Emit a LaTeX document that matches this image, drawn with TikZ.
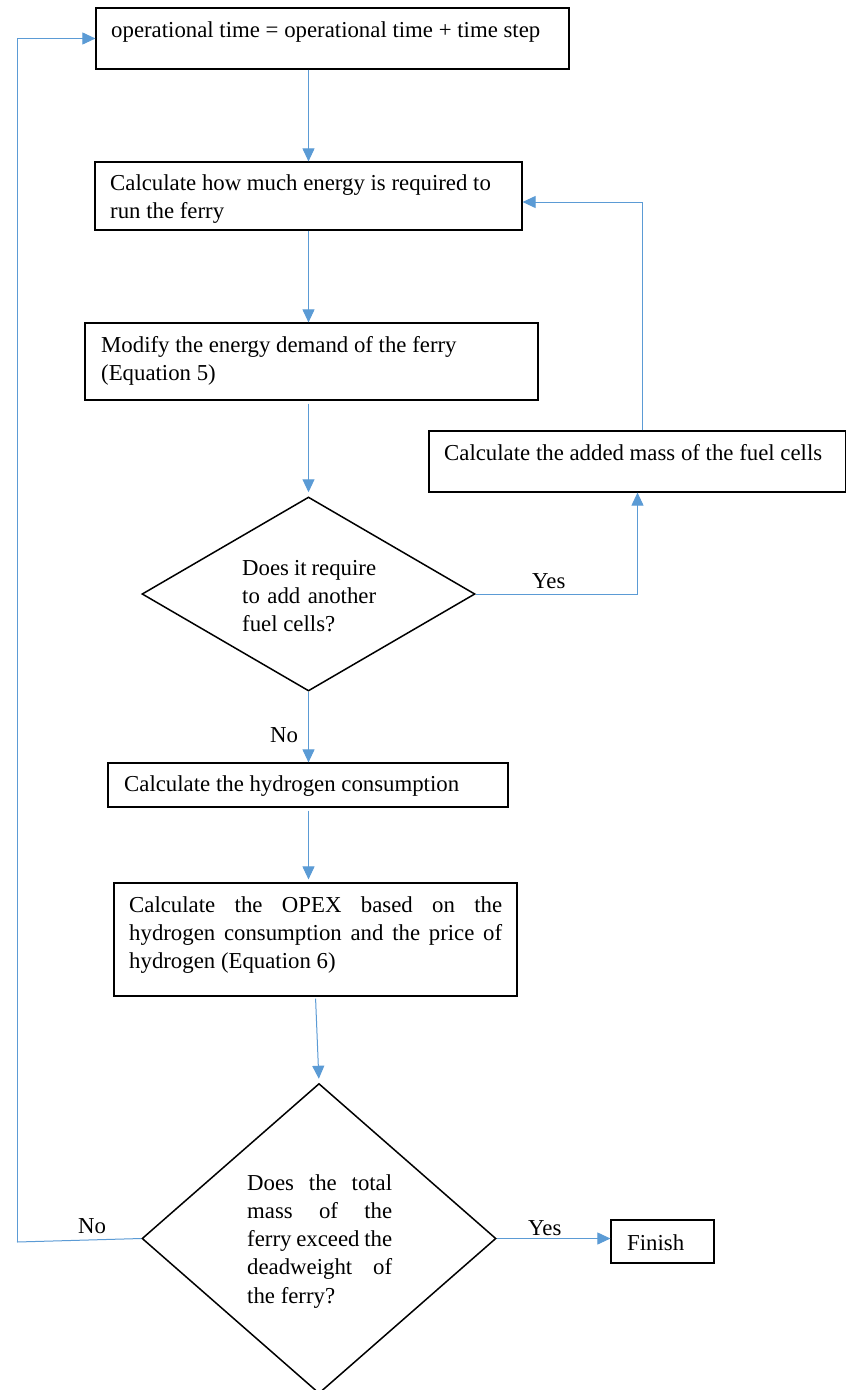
\documentclass[tikz,border=0pt]{standalone}
\usepackage{fontspec}
\setmainfont{Liberation Serif}
\usetikzlibrary{arrows.meta,shapes.geometric}
\definecolor{conn}{RGB}{91,155,213}
\begin{document}
\begin{tikzpicture}[x=1pt,y=-1pt,
  box/.style={draw=black,line width=1.2pt,rectangle,inner sep=0pt},
  dia/.style={draw=black,line width=1.5pt,diamond,inner sep=0pt},
  txt/.style={anchor=base west,inner sep=0pt,font=\fontsize{22.8}{28}\selectfont},
  arr/.style={draw=conn,line width=1pt,-{Triangle[length=13pt,width=12pt]}},
  ln/.style={draw=conn,line width=1pt}]
\useasboundingbox (0,0) rectangle (846,1390);
\fill[white] (0,0) rectangle (846,1390);
% boxes
\node[box,minimum width=473pt,minimum height=61pt] (b1) at (332.5,38.5) {};
\node[box,minimum width=427pt,minimum height=68pt] (b2) at (308.5,196) {};
\node[box,minimum width=453pt,minimum height=77pt] (b3) at (311.5,361.5) {};
\node[box,minimum width=417pt,minimum height=61pt] (b4) at (637.5,461.5) {};
\node[dia,minimum width=333pt,minimum height=194pt] (d1) at (308.5,594) {};
\node[box,minimum width=400pt,minimum height=44pt] (b5) at (308,785) {};
\node[box,minimum width=403pt,minimum height=113pt] (b6) at (315.5,939.5) {};
\node[dia,minimum width=354pt,minimum height=310pt] (d2) at (319,1238.5) {};
\node[box,minimum width=103pt,minimum height=43pt] (fin) at (662.5,1241.5) {};
% texts
\node[txt] (t1) at (111,37) {operational time = operational time + time step};
\node[txt] (t2) at (110,190.5) {\parbox[t]{420pt}{Calculate how much energy is required to\\ run the ferry}};
\node[txt] (t3) at (101,352) {\parbox[t]{440pt}{Modify the energy demand of the ferry\\ (Equation 5)}};
\node[txt] (t4) at (444,460) {Calculate the added mass of the fuel cells};
\node[txt] (t5) at (242,575) {\parbox[t]{140pt}{\makebox[134pt][s]{Does it require}\\ \makebox[134pt][s]{to add another}\\ fuel cells?}};
\node[txt] (t6) at (124,791) {Calculate the hydrogen consumption};
\node[txt] (t7) at (129,912) {\parbox[t]{380pt}{\makebox[373pt][s]{Calculate the OPEX based on the}\\ \makebox[373pt][s]{hydrogen consumption and the price of}\\ hydrogen (Equation 6)}};
\node[txt] (t8) at (247,1190) {\parbox[t]{150pt}{\makebox[145pt][s]{Does the total}\\[0.3pt] \makebox[145pt][s]{mass of the}\\[0.3pt] \makebox[145pt][s]{ferry exceed the}\\[0.3pt] \makebox[145pt][s]{deadweight of}\\[0.3pt] the ferry?}};
\node[txt] (t9) at (627,1250) {Finish};
% labels
\node[txt] (lyes1) at (532,588) {Yes};
\node[txt] (lno1) at (270,742) {No};
\node[txt] (lno2) at (78,1233) {No};
\node[txt] (lyes2) at (528,1235) {Yes};
% connectors
\coordinate (lc) at (17,1242);
\coordinate (rc) at (642,202);
\draw[arr] (b1.south -| d1.north) -- (b2.north -| d1.north);
\draw[arr] (b2.south -| d1.north) -- (b3.north -| d1.north);
\draw[arr,shorten <=3pt,shorten >=4pt] (b3.south -| d1.north) -- (d1.north);
\draw[arr] (d1.east) -| (b4.south);
\draw[ln] (b4.north -| rc) -- (rc);
\draw[arr] (rc) -- (b2.east |- rc);
\draw[arr] (d1.south) -- (b5.north -| d1.south);
\draw[arr,shorten <=3pt,shorten >=3pt] (b5.south -| d1.south) -- (b6.north -| d1.south);
\draw[arr,shorten <=2pt,shorten >=4pt] (b6.south) -- (d2.north);
\draw[arr] (d2.east) -- (d2.east -| fin.west);
\draw[ln] (d2.west) -- (lc);
\draw[arr] (lc) |- (b1.west);
\end{tikzpicture}
\end{document}
